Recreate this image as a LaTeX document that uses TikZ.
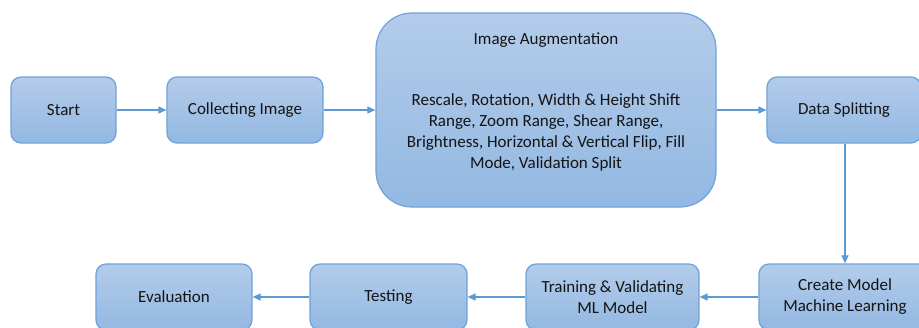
\documentclass[tikz,border=0pt]{standalone}
\usepackage{fontspec}
\setmainfont{Carlito}
\usetikzlibrary{arrows.meta}
\definecolor{boxtop}{HTML}{B3CCEA}
\definecolor{boxbot}{HTML}{93B8E2}
\definecolor{boxline}{HTML}{6FA2D9}
\definecolor{arrowc}{HTML}{5B9BD5}
\definecolor{txt}{HTML}{141414}
\tikzset{
  box/.style={draw=boxline, line width=1.2pt, rounded corners=10pt,
    top color=boxtop, bottom color=boxbot, minimum height=66pt,
    text=txt, font=\fontsize{17}{21}\selectfont, align=center, inner sep=0pt},
  bigbox/.style={box, rounded corners=36pt},
  txtnode/.style={text=txt, font=\fontsize{17}{21}\selectfont, align=center, inner sep=0pt},
  flow/.style={draw=arrowc, line width=1.1pt, -{Triangle[length=8pt,width=7pt]}}
}
\begin{document}
\begin{tikzpicture}[x=1pt,y=-1pt]
\clip (0,0) rectangle (919,327);
\fill[white] (0,0) rectangle (919,327);
\node[box, minimum width=105pt] (start) at (63.5,110) {Start};
\node[box, minimum width=156pt] (collect) at (245,110) {Collecting Image};
\node[bigbox, minimum width=340pt, minimum height=194pt] (aug) at (546,110) {};
\node[txtnode] (augtitle) at (546,40) {Image Augmentation};
\node[txtnode] (augbody) at (546,132) {Rescale, Rotation, Width \& Height Shift\\Range, Zoom Range, Shear Range,\\Brightness, Horizontal \& Vertical Flip, Fill\\Mode, Validation Split};
\node[box, minimum width=154pt] (split) at (844,110) {Data Splitting};
\node[box, minimum width=172pt] (create) at (845,297) {Create Model\\Machine Learning};
\node[box, minimum width=173pt] (train) at (612.5,297) {Training \& Validating\\ML Model};
\node[box, minimum width=157pt] (test) at (388.5,297) {Testing};
\node[box, minimum width=156pt] (eval) at (174,297) {Evaluation};
\draw[flow] (start) -- (collect);
\draw[flow] (collect) -- (aug);
\draw[flow] (aug.east |- split) -- (split);
\draw[flow] (split.south -| create) -- (create);
\draw[flow] (create) -- (train);
\draw[flow] (train) -- (test);
\draw[flow] (test) -- (eval);
\end{tikzpicture}
\end{document}
